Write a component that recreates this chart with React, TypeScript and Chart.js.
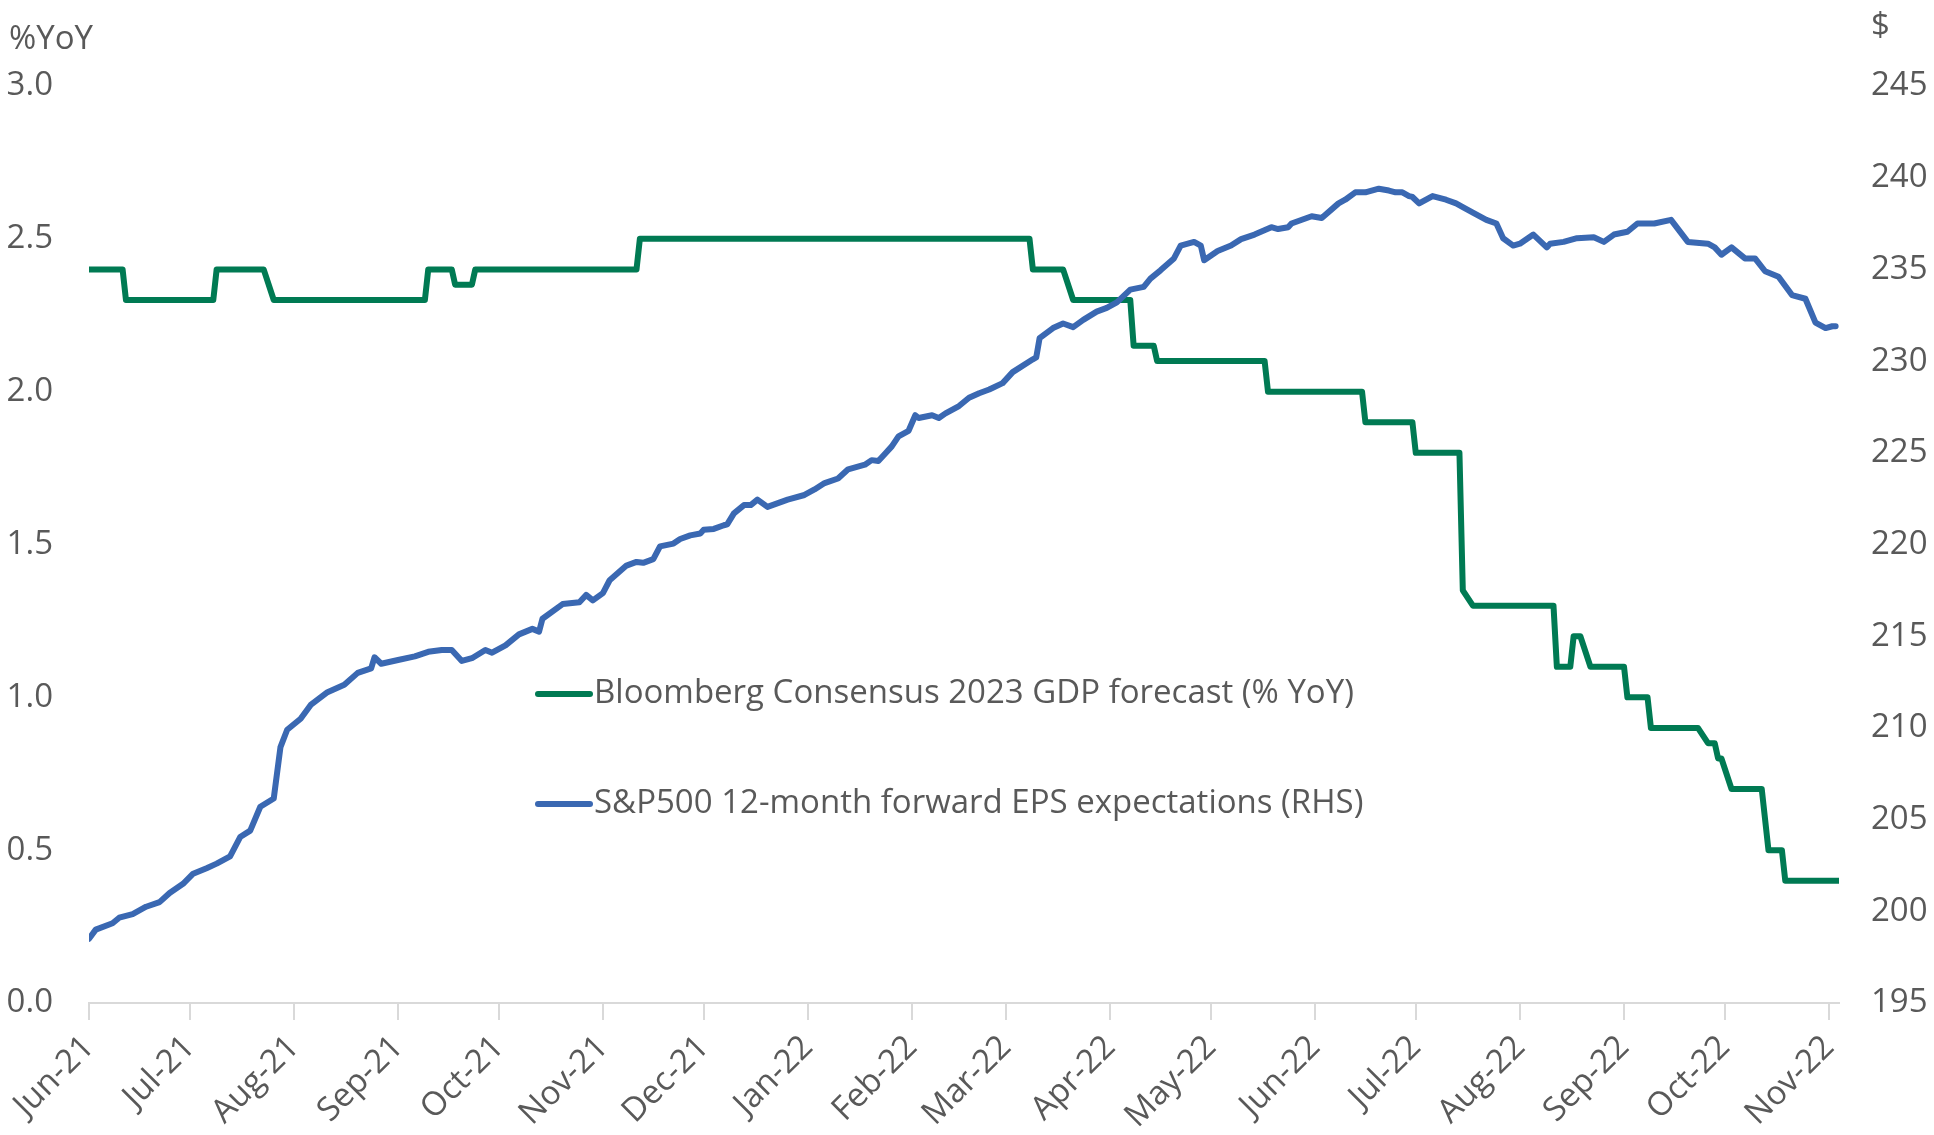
import React, { useEffect, useRef } from 'react';
import { Chart, registerables } from 'chart.js';

Chart.register(...registerables);

// Days are counted from 1 June 2021.
const START_DATE = '2021-06-01';

const monthTickDays = [0, 30, 61, 92, 122, 153, 183, 214, 245, 273, 304, 334, 365, 395, 426, 457, 487, 518];
const monthTickLabels = [
  'Jun-21', 'Jul-21', 'Aug-21', 'Sep-21', 'Oct-21', 'Nov-21', 'Dec-21', 'Jan-22', 'Feb-22',
  'Mar-22', 'Apr-22', 'May-22', 'Jun-22', 'Jul-22', 'Aug-22', 'Sep-22', 'Oct-22', 'Nov-22',
];

const gdpLabel = 'Bloomberg Consensus 2023 GDP forecast (% YoY)';
const gdpDays = [
  0, 10, 11, 37, 38, 52, 55, 100, 101, 108, 109, 114, 115, 163, 164, 280, 281, 290, 293, 310,
  311, 317, 318, 350, 351, 379, 380, 394, 395, 408, 409, 412, 436, 437, 441, 442, 444, 447, 457, 458,
  464, 465, 479, 482, 484, 485, 486, 489, 498, 500, 504, 505, 521,
];
const gdpValues = [
  2.4, 2.4, 2.3, 2.3, 2.4, 2.4, 2.3, 2.3, 2.4, 2.4, 2.35, 2.35, 2.4, 2.4, 2.5, 2.5, 2.4, 2.4, 2.3, 2.3,
  2.15, 2.15, 2.1, 2.1, 2.0, 2.0, 1.9, 1.9, 1.8, 1.8, 1.35, 1.3, 1.3, 1.1, 1.1, 1.2, 1.2, 1.1, 1.1, 1.0,
  1.0, 0.9, 0.9, 0.85, 0.85, 0.8, 0.8, 0.7, 0.7, 0.5, 0.5, 0.4, 0.4,
];

const epsLabel = 'S&P500 12-month forward EPS expectations (RHS)';
const epsDays = [
  0, 2, 7, 9, 13, 17, 21, 24, 28, 31, 35, 38, 42, 45, 48, 51, 55, 57, 59, 63,
  66, 71, 76, 80, 84, 85, 87, 92, 97, 101, 105, 108, 111, 114, 118, 120, 124, 128, 132, 134,
  135, 141, 146, 148, 150, 153, 155, 160, 163, 165, 168, 170, 174, 176, 179, 182, 183, 186, 189, 190,
  192, 195, 197, 199, 202, 208, 213, 216, 219, 223, 226, 231, 233, 235, 237, 239, 241, 244, 246, 247,
  251, 253, 255, 259, 262, 265, 268, 272, 275, 281, 282, 283, 287, 290, 293, 296, 300, 303, 306, 310,
  314, 316, 319, 323, 325, 329, 331, 332, 336, 340, 343, 347, 352, 354, 357, 358, 364, 367, 372, 374,
  377, 380, 384, 387, 389, 391, 393, 394, 396, 400, 404, 407, 409, 412, 416, 419, 421, 424, 426, 430,
  434, 435, 439, 443, 448, 451, 454, 458, 461, 466, 471, 476, 482, 484, 486, 489, 493, 496, 499, 503,
  507, 511, 514, 517, 519, 520,
];
const epsValues = [
  198.5, 199.0, 199.35, 199.65, 199.85, 200.25, 200.5, 201.0, 201.5, 202.05, 202.35, 202.6, 203.0, 204.05, 204.4, 205.7, 206.15, 208.95, 209.9, 210.5,
  211.25, 211.95, 212.35, 213.0, 213.25, 213.85, 213.5, 213.7, 213.9, 214.15, 214.25, 214.25, 213.65, 213.8, 214.25, 214.1, 214.5, 215.1, 215.4, 215.25,
  215.95, 216.75, 216.85, 217.25, 216.95, 217.35, 218.05, 218.85, 219.05, 219.0, 219.2, 219.9, 220.05, 220.3, 220.5, 220.6, 220.8, 220.85, 221.05, 221.1,
  221.7, 222.15, 222.15, 222.45, 222.05, 222.45, 222.7, 223.0, 223.35, 223.6, 224.1, 224.35, 224.6, 224.55, 224.95, 225.35, 225.9, 226.2, 227.05, 226.9,
  227.05, 226.9, 227.15, 227.55, 228.0, 228.25, 228.45, 228.8, 229.4, 230.1, 230.2, 231.25, 231.8, 232.05, 231.85, 232.25, 232.7, 232.9, 233.2, 233.9,
  234.05, 234.5, 234.95, 235.6, 236.3, 236.5, 236.3, 235.5, 236.0, 236.3, 236.65, 236.9, 237.3, 237.2, 237.3, 237.5, 237.9, 237.8, 238.6, 238.8,
  239.2, 239.2, 239.4, 239.3, 239.2, 239.2, 239.0, 238.95, 238.6, 239.0, 238.8, 238.6, 238.4, 238.1, 237.7, 237.5, 236.7, 236.3, 236.4, 236.9,
  236.2, 236.4, 236.5, 236.7, 236.75, 236.5, 236.9, 237.05, 237.5, 237.5, 237.7, 236.5, 236.4, 236.2, 235.8, 236.2, 235.6, 235.6, 234.9, 234.6,
  233.6, 233.4, 232.1, 231.8, 231.9, 231.9,
];

const leftAxisTitle = '%YoY';
const rightAxisTitle = '$';

const GREEN = '#007A53';
const BLUE = '#3A68B2';
const TEXT = '#595959';
const AXIS = '#D9D9D9';
const FONT = "'Open Sans', 'Noto Sans', sans-serif";
const FONT_SIZE = 33;

const overlayPlugin = {
  id: 'overlayText',
  afterDraw(chart: any) {
    const ctx = chart.ctx as CanvasRenderingContext2D;
    const area = chart.chartArea;
    ctx.save();
    ctx.font = `${FONT_SIZE}px ${FONT}`;
    ctx.fillStyle = TEXT;
    // axis titles
    ctx.textBaseline = 'alphabetic';
    ctx.textAlign = 'left';
    ctx.fillText(leftAxisTitle, 9, 49);
    ctx.fillText(rightAxisTitle, area.right + 32, 36);
    // legend
    const rows = [area.top + 608, area.top + 718];
    chart.data.datasets.forEach((ds: any, i: number) => {
      const y = rows[i];
      const x0 = area.left + 449;
      ctx.strokeStyle = ds.borderColor;
      ctx.lineWidth = 6;
      ctx.lineCap = 'round';
      ctx.beginPath();
      ctx.moveTo(x0, y);
      ctx.lineTo(x0 + 52, y);
      ctx.stroke();
      ctx.fillStyle = TEXT;
      ctx.textBaseline = 'middle';
      ctx.fillText(ds.label, x0 + 56, y);
    });
    ctx.restore();
  },
};

export default function App() {
  const ref = useRef<HTMLCanvasElement>(null);
  useEffect(() => {
    document.body.style.margin = '0';
    document.body.style.overflow = 'hidden';
    const gdpData = gdpDays.map((d, i) => ({ x: d, y: gdpValues[i] }));
    const epsData = epsDays.map((d, i) => ({ x: d, y: epsValues[i] }));
    const chart = new Chart(ref.current!, {
      type: 'line',
      data: {
        datasets: [
          {
            label: gdpLabel,
            data: gdpData,
            borderColor: GREEN,
            backgroundColor: GREEN,
            borderWidth: 6,
            pointRadius: 0,
            tension: 0,
            yAxisID: 'y',
            order: 1,
            borderJoinStyle: 'round',
            borderCapStyle: 'round',
          },
          {
            label: epsLabel,
            data: epsData,
            borderColor: BLUE,
            backgroundColor: BLUE,
            borderWidth: 6,
            pointRadius: 0,
            tension: 0,
            yAxisID: 'y1',
            order: 0,
            borderJoinStyle: 'round',
            borderCapStyle: 'round',
          },
        ],
      },
      options: {
        animation: false,
        responsive: true,
        maintainAspectRatio: false,
        layout: { padding: { top: 86, left: 0, right: 0, bottom: 0 } },
        plugins: { legend: { display: false }, tooltip: { enabled: false }, title: { display: false } },
        scales: {
          x: {
            type: 'linear',
            min: 0,
            max: 521,
            afterBuildTicks: (scale: any) => {
              scale.ticks = monthTickDays.map((v) => ({ value: v }));
            },
            afterFit: (scale: any) => {
              scale.height = 132;
            },
            ticks: {
              autoSkip: false,
              maxRotation: 45,
              minRotation: 45,
              padding: 8,
              color: TEXT,
              font: { family: FONT, size: FONT_SIZE },
              callback: (v: any) => {
                const idx = monthTickDays.indexOf(Number(v));
                return idx >= 0 ? monthTickLabels[idx] : '';
              },
            },
            grid: { drawOnChartArea: false, drawTicks: true, tickLength: 17, color: AXIS, lineWidth: 2 },
            border: { display: true, color: AXIS, width: 2 },
          },
          y: {
            position: 'left',
            min: 0,
            max: 3,
            afterFit: (scale: any) => {
              scale.width = 89;
            },
            ticks: {
              stepSize: 0.5,
              padding: 36,
              color: TEXT,
              font: { family: FONT, size: FONT_SIZE },
              callback: (v: any) => Number(v).toFixed(1),
            },
            grid: { display: false, drawTicks: false },
            border: { display: false },
          },
          y1: {
            position: 'right',
            min: 195,
            max: 245,
            afterFit: (scale: any) => {
              scale.width = 95;
            },
            ticks: {
              stepSize: 5,
              padding: 32,
              color: TEXT,
              font: { family: FONT, size: FONT_SIZE },
            },
            grid: { display: false, drawTicks: false },
            border: { display: false },
          },
        },
      },
      plugins: [overlayPlugin],
    } as any);
    return () => chart.destroy();
  }, []);
  return (
    <div style={{ width: 1934, height: 1135, position: 'relative', background: '#fff' }}>
      <canvas ref={ref} />
    </div>
  );
}
